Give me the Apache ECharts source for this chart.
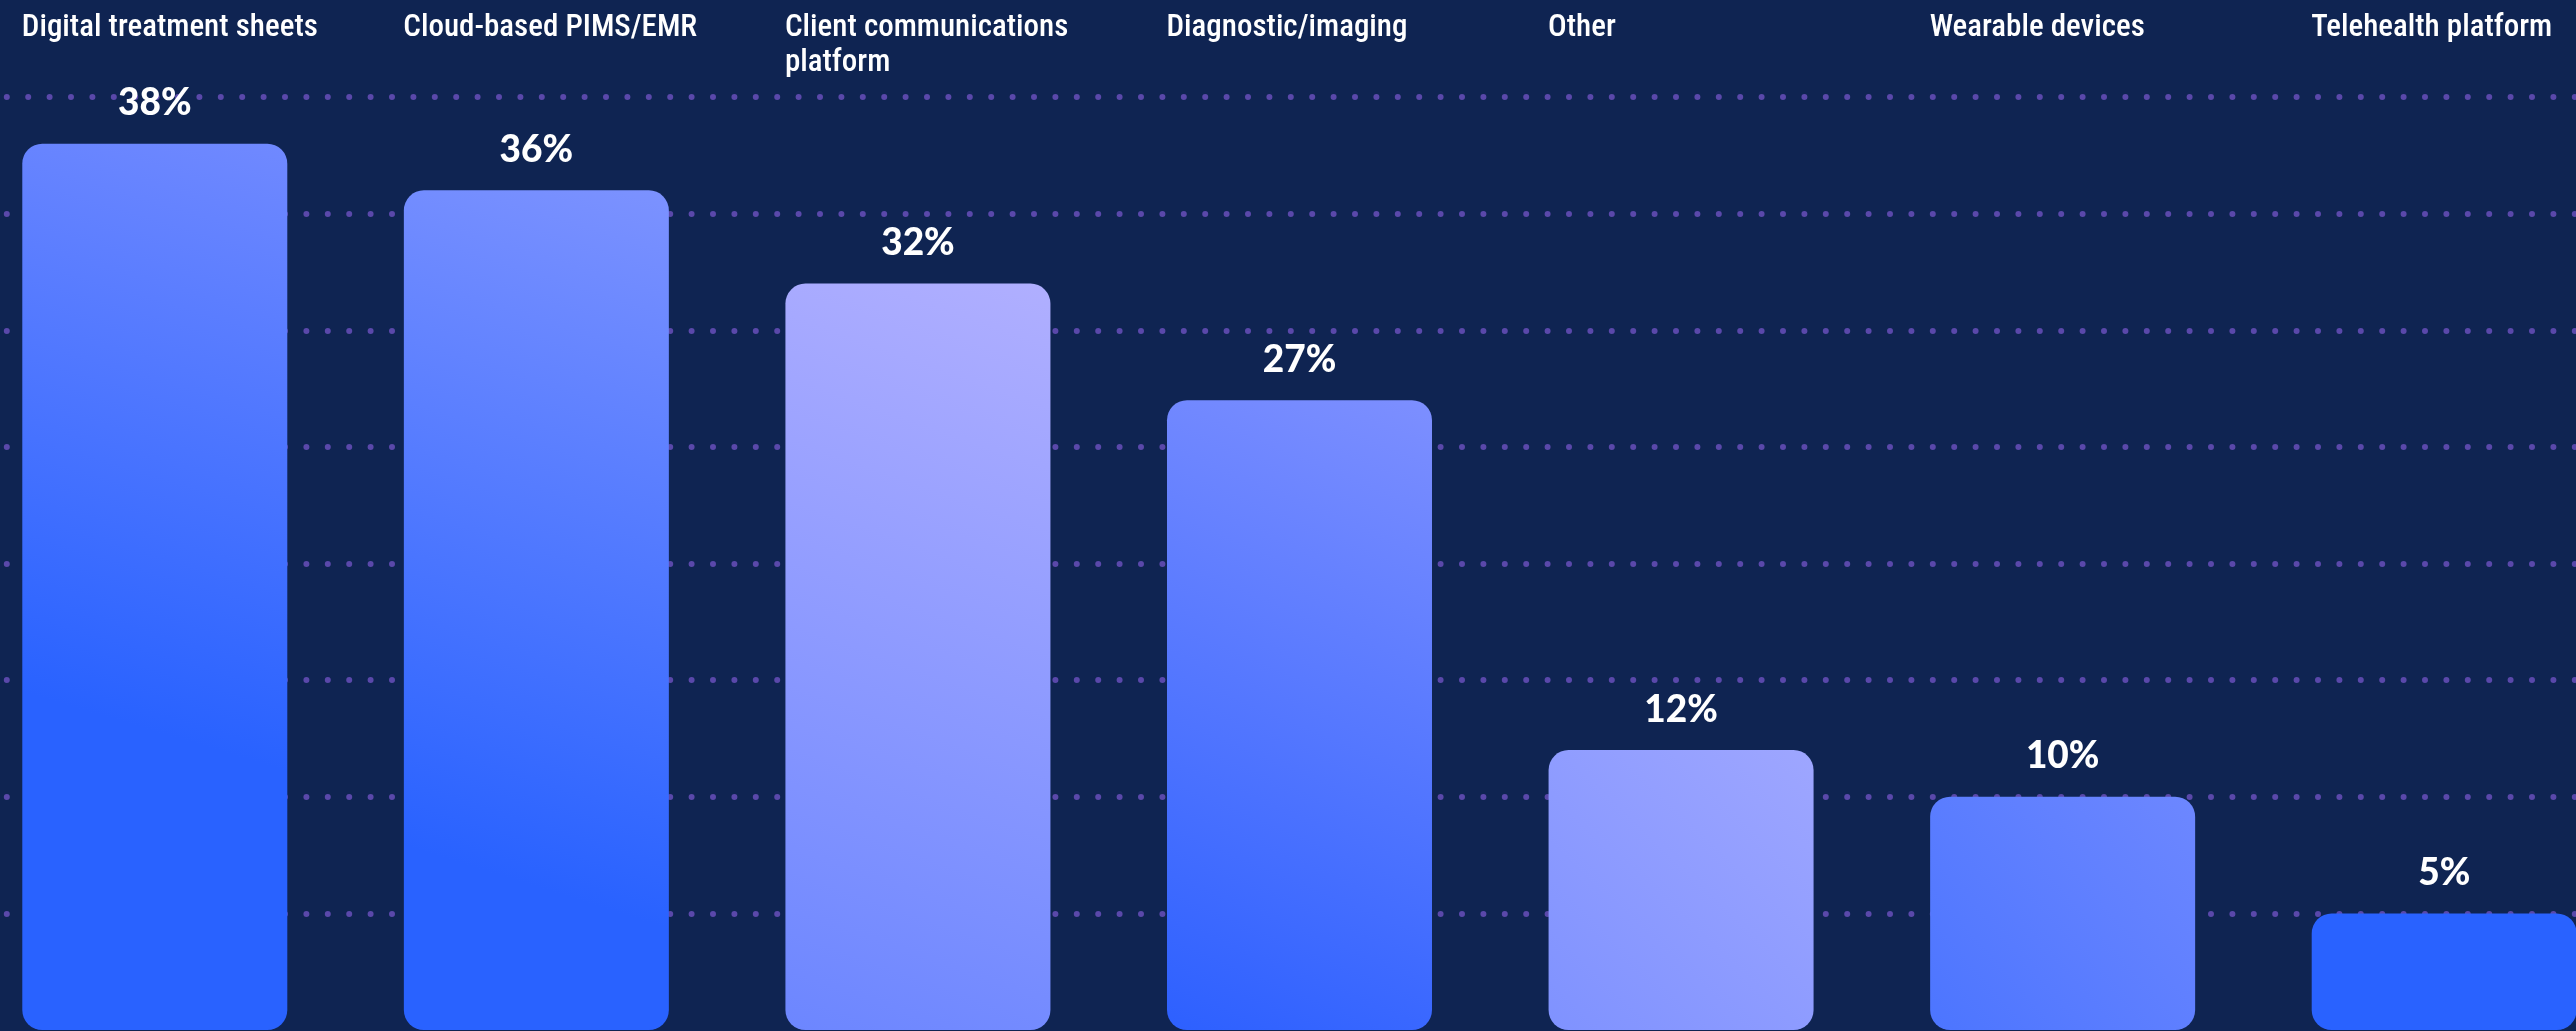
<!DOCTYPE html>
<html>
<head>
<meta charset="utf-8">
<title>Technology adoption</title>
<script src="https://cdn.jsdelivr.net/npm/echarts@6/dist/echarts.min.js"></script>
<style>
  html, body { margin: 0; padding: 0; background: #0f2452; overflow: hidden; width: 2576px; height: 1031px; }
  /* the plot runs slightly past both page edges */
  #chart { position: absolute; left: -36px; top: 0; width: 2671px; height: 1031px; }
</style>
</head>
<body>
<div id="chart"></div>
<script>
// Categories and shares (percent of respondents)
const categories = [
  'Digital treatment sheets',
  'Cloud-based PIMS/EMR',
  'Client communications\nplatform',
  'Diagnostic/imaging',
  'Other',
  'Wearable devices',
  'Telehealth platform'
];
const shares = [38, 36, 32, 27, 12, 10, 5];

// Value axis range and gridline step
const axisMin = 0;
const axisMax = 40;
const axisStep = 5;

// Per-bar gradient (top-right colour, bottom-left colour, where the bottom colour is reached)
const barPalette = [
  ['#7089ff', '#2962ff', 0.65],
  ['#7c92ff', '#2962ff', 0.8],
  ['#b0afff', '#6c86ff', 1],
  ['#7d8fff', '#2d60ff', 1],
  ['#9ea6ff', '#7f92ff', 1],
  ['#6d87ff', '#4c75ff', 1],
  ['#2962ff', '#2962ff', 1]
];

const chart = echarts.init(document.getElementById('chart'), null, { renderer: 'canvas' });

const barData = shares.map((v, i) => {
  const [top, bottom, stop] = barPalette[i];
  return {
    value: v,
    itemStyle: {
      color: new echarts.graphic.LinearGradient(1, 0, 0, 1, [
        { offset: 0, color: top },
        { offset: stop, color: bottom },
        { offset: 1, color: bottom }
      ])
    }
  };
});

chart.setOption({
  backgroundColor: '#0f2452',
  animation: false,
  grid: {
    left: 0,
    right: 0,
    top: 97,
    bottom: 1,
    containLabel: false
  },
  xAxis: {
    type: 'category',
    position: 'top',
    data: categories,
    axisLine: { show: false },
    axisTick: { show: false },
    axisLabel: {
      show: true,
      interval: 0,
      color: '#ffffff',
      fontFamily: "'Roboto Condensed', 'Liberation Sans Narrow', 'DejaVu Sans Condensed', Roboto, sans-serif",
      fontWeight: 500,
      fontSize: 31,
      lineHeight: 35,
      align: 'left',
      verticalAlign: 'top',
      margin: 86,
      padding: [0, 0, 0, -133]
    }
  },
  yAxis: {
    type: 'value',
    min: axisMin,
    max: axisMax,
    interval: axisStep,
    axisLine: { show: false },
    axisTick: { show: false },
    axisLabel: { show: false },
    splitLine: {
      show: true,
      showMinLine: false,
      lineStyle: {
        color: '#5a48aa',
        width: 6,
        type: [0, 21.4],
        cap: 'round'
      }
    }
  },
  series: [{
    type: 'bar',
    data: barData,
    barWidth: 265,
    itemStyle: { borderRadius: 20 },
    label: {
      show: true,
      position: 'top',
      distance: 22,
      formatter: '{c}%',
      color: '#ffffff',
      fontFamily: "Lato, 'Noto Sans', sans-serif",
      fontWeight: 900,
      fontSize: 37
    }
  }]
});
</script>
</body>
</html>
